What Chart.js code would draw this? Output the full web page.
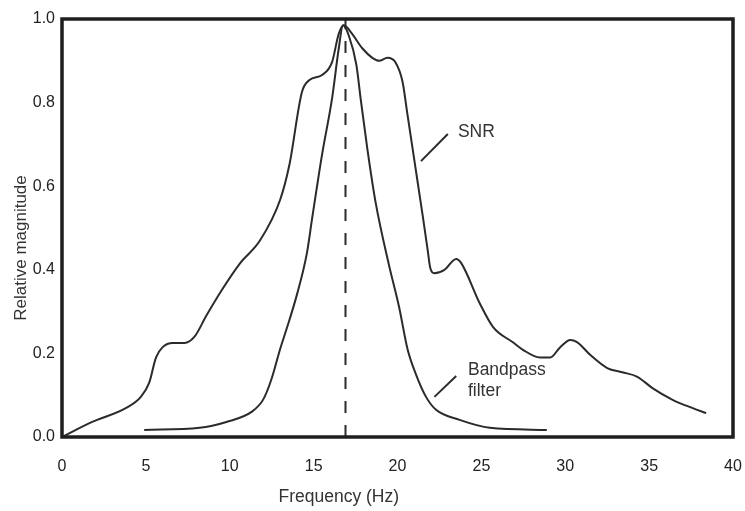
<!DOCTYPE html>
<html><head><meta charset="utf-8">
<script src="https://cdn.jsdelivr.net/npm/chart.js@4/dist/chart.umd.min.js"></script>
<style>html,body{margin:0;padding:0;background:#fff}#wrap{width:745px;height:511px}</style>
</head><body><div id="wrap"><canvas id="c" width="745" height="511"></canvas></div>
<script>
// ---- data ----
const snrFreq = [0, 1.8, 3.8, 4.7, 5.2, 5.6, 6.0, 6.6, 7.3, 7.9, 8.6, 9.5, 10.6, 11.8, 13.0, 13.55, 14.3, 14.75, 15.5, 16.1, 16.5, 16.8, 17.25, 17.9, 18.5, 18.9, 19.4, 19.9, 20.3, 20.6, 20.9, 21.2, 21.5, 21.8, 21.95, 22.2, 22.8, 23.5, 23.8, 24.9, 25.7, 26.9, 27.5, 28.5, 29.1, 29.7, 30.3, 30.7, 31.5, 32.5, 33.4, 34.3, 35.2, 36.4, 37.6, 38.4];
const snrMag  = [0, 0.036, 0.069, 0.096, 0.13, 0.19, 0.215, 0.225, 0.225, 0.24, 0.29, 0.35, 0.415, 0.47, 0.567, 0.65, 0.825, 0.854, 0.866, 0.897, 0.965, 0.985, 0.967, 0.93, 0.907, 0.90, 0.907, 0.895, 0.85, 0.77, 0.69, 0.61, 0.53, 0.447, 0.405, 0.392, 0.40, 0.426, 0.416, 0.32, 0.263, 0.226, 0.208, 0.19, 0.19, 0.215, 0.232, 0.227, 0.196, 0.165, 0.155, 0.144, 0.117, 0.089, 0.069, 0.057];
const bpFreq = [4.9, 8.2, 9.8, 11.3, 12.0, 12.5, 13.0, 13.4, 14.0, 14.6, 14.9, 15.5, 16.1, 16.5, 16.75, 17.1, 17.55, 17.8, 18.2, 18.7, 19.5, 20.1, 20.6, 21.1, 21.7, 22.3, 23.7, 25.5, 28.9];
const bpMag  = [0.017, 0.022, 0.036, 0.06, 0.09, 0.14, 0.21, 0.26, 0.34, 0.44, 0.52, 0.675, 0.81, 0.93, 0.985, 0.96, 0.89, 0.81, 0.69, 0.56, 0.41, 0.31, 0.21, 0.15, 0.096, 0.065, 0.041, 0.022, 0.017];
const peakFreq = 16.9;
const peakLine = [0, 1.0];
const snrPointerFreq = [21.4, 23.0];
const snrPointerMag  = [0.66, 0.725];
const bpPointerFreq  = [22.2, 23.5];
const bpPointerMag   = [0.096, 0.146];
const labelTexts = ['SNR', 'Bandpass', 'filter'];
const labelFreq  = [23.6, 24.2, 24.2];
const labelMag   = [0.73, 0.16, 0.11];
const xTickStep = 5, xMin = 0, xMax = 40;
const yTickStep = 0.2, yMin = 0, yMax = 1.0;
const xTitle = 'Frequency (Hz)';
const yTitle = 'Relative magnitude';

const pts = (xs, ys) => xs.map((x, i) => ({x, y: ys[i]}));
const FONT = '"Liberation Sans", Arial, Helvetica, sans-serif';
const INK = '#2b2b2b';

const framePlugin = {
  id: 'frame',
  afterDatasetsDraw(chart) {
    const {ctx, chartArea: a, scales} = chart;
    ctx.save();
    ctx.strokeStyle = '#1e1e1e';
    ctx.lineWidth = 3.5;
    ctx.strokeRect(a.left, a.top, a.right - a.left, a.bottom - a.top);
    ctx.fillStyle = '#333';
    ctx.font = '17.5px ' + FONT;
    ctx.textAlign = 'left';
    ctx.textBaseline = 'middle';
    labelTexts.forEach((t, i) => {
      ctx.fillText(t, scales.x.getPixelForValue(labelFreq[i]), scales.y.getPixelForValue(labelMag[i]));
    });
    // axis titles
    ctx.font = '17.5px ' + FONT;
    ctx.textAlign = 'center';
    ctx.fillText(xTitle, scales.x.getPixelForValue(16.5), 497);
    ctx.save();
    ctx.translate(21, (a.top + a.bottom) / 2 + 20);
    ctx.rotate(-Math.PI / 2);
    ctx.font = '17px ' + FONT;
    ctx.fillText(yTitle, 0, 0);
    ctx.restore();
    ctx.restore();
  }
};

const lineDs = (data, extra) => Object.assign({
  data, borderColor: INK, borderWidth: 2, pointRadius: 0, fill: false,
  cubicInterpolationMode: 'monotone'
}, extra || {});

new Chart(document.getElementById('c'), {
  type: 'line',
  data: {
    datasets: [
      lineDs(pts(snrFreq, snrMag), {label: 'SNR'}),
      lineDs(pts(bpFreq, bpMag), {label: 'Bandpass filter'}),
      lineDs(pts([peakFreq, peakFreq], peakLine), {label: 'peak', borderDash: [12, 12], tension: 0, cubicInterpolationMode: 'default'}),
      lineDs(pts(snrPointerFreq, snrPointerMag), {label: 'p1', tension: 0, cubicInterpolationMode: 'default'}),
      lineDs(pts(bpPointerFreq, bpPointerMag), {label: 'p2', tension: 0, cubicInterpolationMode: 'default'})
    ]
  },
  options: {
    responsive: false,
    animation: false,
    devicePixelRatio: 1,
    layout: {padding: {top: 19, right: 12, left: 0, bottom: 0}},
    plugins: {legend: {display: false}, tooltip: {enabled: false}},
    scales: {
      x: {
        type: 'linear', min: xMin, max: xMax,
        ticks: {stepSize: xTickStep, color: '#222', font: {size: 16, family: FONT}, padding: 20, maxRotation: 0},
        grid: {display: false, drawTicks: false},
        border: {display: false},
        afterFit(s) { s.height = 74; s.paddingLeft = 0; s.paddingRight = 0; }
      },
      y: {
        type: 'linear', min: yMin, max: yMax,
        ticks: {stepSize: yTickStep, color: '#222', font: {size: 16, family: FONT}, padding: 7, callback: v => Number(v).toFixed(1)},
        grid: {display: false, drawTicks: false},
        border: {display: false},
        afterFit(s) { s.width = 62; s.paddingTop = 0; s.paddingBottom = 0; }
      }
    }
  },
  plugins: [framePlugin]
});
</script>
</body></html>
